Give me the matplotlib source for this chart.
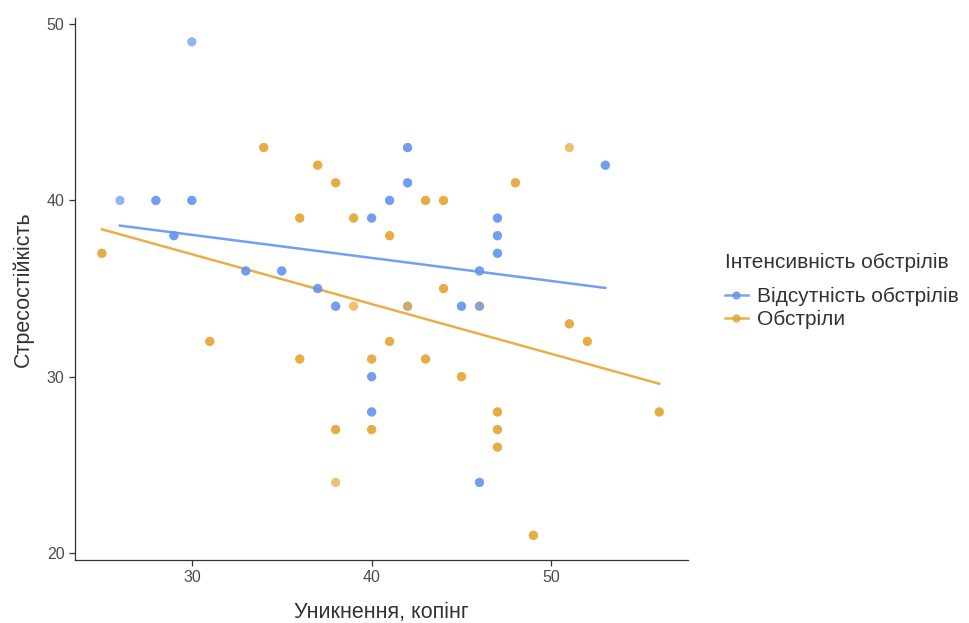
import numpy as np
import matplotlib
matplotlib.use('Agg')
import matplotlib.pyplot as plt
from matplotlib.lines import Line2D

plt.rcParams['font.family'] = ['Liberation Sans', 'DejaVu Sans']

# ---- дані ----
# n = кількість збіжних спостережень (світлі точки = 1, темніші = 2)
groups = ['Відсутність обстрілів', 'Обстріли']
colors = ['#6495ed', '#e6a533']

x_none = [42, 26, 28, 29, 30, 30, 33, 35, 37, 38, 40, 40, 40, 41, 42, 42,
          45, 46, 46, 46, 47, 47, 47, 53]
y_none = [34, 40, 40, 38, 49, 40, 36, 36, 35, 34, 39, 30, 28, 40, 43, 41,
          34, 34, 36, 24, 39, 38, 37, 42]
n_none = [1, 1, 2, 2, 1, 2, 2, 2, 2, 2, 2, 2, 2, 2, 2, 2,
          2, 1, 2, 2, 2, 2, 2, 2]

x_shell = [25, 31, 34, 36, 36, 37, 38, 38, 38, 39, 39, 40, 40, 41, 41, 42,
           43, 43, 44, 44, 45, 46, 47, 47, 47, 48, 49, 51, 51, 52, 56]
y_shell = [37, 32, 43, 39, 31, 42, 41, 27, 24, 39, 34, 31, 27, 38, 32, 34,
           40, 31, 40, 35, 30, 34, 28, 27, 26, 41, 21, 43, 33, 32, 28]
n_shell = [2, 2, 2, 2, 2, 2, 2, 2, 1, 2, 1, 2, 2, 2, 2, 1,
           2, 2, 2, 2, 2, 1, 2, 2, 2, 2, 2, 1, 2, 2, 2]

x_ticks = [30, 40, 50]
y_ticks = [20, 30, 40, 50]

fig = plt.figure(figsize=(9.7, 6.23), dpi=100)
ax = fig.add_axes([75 / 970, 1 - 560 / 623, (688 - 75) / 970, (560 - 18) / 623])

# порядок малювання: (42,34) синя під помаранчевою, (46,34) синя над помаранчевою
draw = []
draw += [(x_none[0], y_none[0], n_none[0], 0)]
draw += [(x, y, n, 1) for x, y, n in zip(x_shell, y_shell, n_shell)]
draw += [(x, y, n, 0) for x, y, n in zip(x_none[1:], y_none[1:], n_none[1:])]
px, py, pc = [], [], []
for x, y, n, g in draw:
    for _ in range(n):
        px.append(x)
        py.append(y)
        pc.append(colors[g])
ax.scatter(px, py, s=44, c=pc, alpha=0.7, edgecolors='none', zorder=3)

# лінійна регресія для кожної групи (geom_smooth(method='lm', se=FALSE))
for (xs, ys, ns), c in zip([(x_none, y_none, n_none), (x_shell, y_shell, n_shell)], colors):
    xs = np.repeat(xs, ns).astype(float)
    ys = np.repeat(ys, ns).astype(float)
    k, b = np.polyfit(xs, ys, 1)
    xx = np.array([xs.min(), xs.max()])
    ax.plot(xx, k * xx + b, color=c, lw=1.8, alpha=0.9, zorder=2)

ax.set_xlim(23.5, 57.6)
ax.set_ylim(19.6, 50.35)
ax.set_xticks(x_ticks)
ax.set_yticks(y_ticks)

for side in ['top', 'right']:
    ax.spines[side].set_visible(False)
for side in ['left', 'bottom']:
    ax.spines[side].set_color('#333333')
    ax.spines[side].set_linewidth(0.9)
ax.tick_params(colors='#333333', labelcolor='#4d4d4d', labelsize=11.5, length=4, width=0.9)

ax.set_xlabel('Уникнення, копінг', fontsize=15.5, color='#333333', labelpad=12)
ax.set_ylabel('Стресостійкість', fontsize=15.5, color='#333333', labelpad=9)

handles = [Line2D([0], [0], color=c, lw=1.8, marker='o', markersize=6,
                  markeredgewidth=0, alpha=0.85) for c in colors]
leg = fig.legend(handles, groups, title='Інтенсивність обстрілів',
                 loc='center left', bbox_to_anchor=(706 / 970, 1 - 291 / 623),
                 frameon=False, fontsize=15, title_fontsize=15,
                 handlelength=1.1, handletextpad=0.45, labelspacing=0.2,
                 alignment='left')
leg._legend_box.sep = 11
for t in leg.get_texts():
    t.set_color('#333333')
leg.get_title().set_color('#333333')

fig.savefig('out.png', dpi=100, facecolor='white')
